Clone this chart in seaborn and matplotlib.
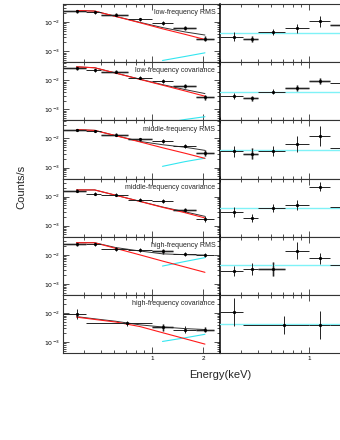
import matplotlib

matplotlib.use("Agg")
import matplotlib.pyplot as plt
import numpy as np
import seaborn as sns
from matplotlib.ticker import FixedFormatter, FixedLocator, LogLocator, NullFormatter


PANEL_NAMES = [
    "low-frequency RMS",
    "low-frequency covariance",
    "middle-frequency RMS",
    "middle-frequency covariance",
    "high-frequency RMS",
    "high-frequency covariance",
]

# energy bins (keV)
BIN_EDGES = [0.3, 0.41, 0.5, 0.72, 1.0, 1.32, 1.81, 2.3]
BIN_MID = [0.36, 0.46, 0.61, 0.85, 1.15, 1.56, 2.04]
WIDE_EDGES = [0.3, 0.41, 1.0, 1.32, 1.81, 2.3]
WIDE_MID = [0.36, 0.71, 1.15, 1.56, 2.04]

# model grid
MODEL_E = [0.36, 0.46, 0.61, 0.85, 1.15, 1.56, 2.04]
HARD_E = [1.15, 1.56, 2.04]

# left column: spectra (counts/s) and errors (dex)
LOW_RMS_Y = [0.024, 0.0216, 0.018, 0.0124, 0.0092, 0.0062, 0.0027]
LOW_COV_Y = [0.0256, 0.0218, 0.0195, 0.0124, 0.0095, 0.0062, 0.0026]
MID_RMS_Y = [0.0196, 0.018, 0.0134, 0.0094, 0.0082, 0.0055, 0.0032]
MID_COV_Y = [0.0157, 0.0127, 0.0117, 0.0077, 0.0071, 0.0035, 0.0017]
HIGH_RMS_Y = [0.0227, 0.0227, 0.0159, 0.0147, 0.0131, 0.0106, 0.0098]
HIGH_COV_Y = [0.0093, 0.0044, 0.0032, 0.00265, 0.0027]

LOW_RMS_ERR = [0.05, 0.05, 0.05, 0.05, 0.06, 0.07, 0.09]
LOW_COV_ERR = [0.05, 0.05, 0.05, 0.05, 0.06, 0.07, 0.09]
MID_RMS_ERR = [0.05, 0.05, 0.05, 0.05, 0.06, 0.08, 0.1]
MID_COV_ERR = [0.05, 0.05, 0.05, 0.05, 0.06, 0.08, 0.1]
HIGH_RMS_ERR = [0.06, 0.06, 0.06, 0.07, 0.08, 0.06, 0.06]
HIGH_COV_ERR = [0.17, 0.08, 0.12, 0.12, 0.1]

# model components
LOW_RMS_RED = [0.025, 0.024, 0.0157, 0.0095, 0.0059, 0.0038, 0.00253]
LOW_RMS_BLACK = [0.025, 0.024, 0.0158, 0.0098, 0.0065, 0.0046, 0.0036]
LOW_RMS_CYAN = [4.8e-4, 6.6e-4, 8.8e-4]

LOW_COV_RED = [0.029, 0.027, 0.0177, 0.0107, 0.0068, 0.0043, 0.00284]
LOW_COV_BLACK = [0.029, 0.027, 0.0178, 0.0109, 0.0071, 0.0048, 0.0035]
LOW_COV_CYAN = [3.3e-4, 4.5e-4, 5.6e-4]

MID_RMS_RED = [0.02, 0.019, 0.0125, 0.0076, 0.0048, 0.0031, 0.00207]
MID_RMS_BLACK = [0.02, 0.019, 0.0126, 0.0079, 0.0061, 0.005, 0.0039]
MID_RMS_CYAN = [0.0011, 0.0016, 0.0021]

MID_COV_RED = [0.017, 0.017, 0.0112, 0.0068, 0.0043, 0.0028, 0.00185]
MID_COV_BLACK = [0.017, 0.017, 0.0112, 0.0069, 0.0044, 0.003, 0.0021]
MID_COV_CYAN = [1.5e-4, 2.0e-4, 2.6e-4]

HIGH_RMS_RED = [0.026, 0.026, 0.0167, 0.0099, 0.0061, 0.0038, 0.0025]
HIGH_RMS_BLACK = [0.026, 0.026, 0.0178, 0.0135, 0.0108, 0.0101, 0.0098]
HIGH_RMS_CYAN = [0.0041, 0.0059, 0.008]

HIGH_COV_RED = [0.0072, 0.006, 0.0049, 0.0034, 0.0021, 0.0013, 0.00085]
HIGH_COV_BLACK = [0.0075, 0.0063, 0.0052, 0.0039, 0.0033, 0.0029, 0.0027]
HIGH_COV_CYAN = [0.00105, 0.0014, 0.00185]

# right column: spectra (counts/s), errors (dex), constant model level
LOW_RMS_R = [0.0032, 0.0026, 0.0045, 0.0062, 0.0106, 0.0081, 0.0075]
LOW_COV_R = [0.0028, 0.0024, 0.0041, 0.0054, 0.0095, 0.0083, 0.007]
MID_RMS_R = [0.0036, 0.003, 0.0037, 0.0063, 0.012, 0.0048, 0.006]
MID_COV_R = [0.003, 0.0019, 0.0041, 0.0052, 0.022, 0.0045, 0.005]
HIGH_RMS_R = [0.0028, 0.0032, 0.0033, 0.0139, 0.0076, 0.0044, 0.005]
HIGH_COV_R = [0.0108, 0.0038, 0.0038, 0.004, 0.004]

LOW_RMS_R_ERR = [0.14, 0.1, 0.1, 0.15, 0.18, 0.15, 0.2]
LOW_COV_R_ERR = [0.1, 0.08, 0.08, 0.1, 0.1, 0.12, 0.15]
MID_RMS_R_ERR = [0.2, 0.18, 0.18, 0.28, 0.35, 0.25, 0.3]
MID_COV_R_ERR = [0.17, 0.14, 0.14, 0.16, 0.16, 0.2, 0.25]
HIGH_RMS_R_ERR = [0.18, 0.21, 0.23, 0.29, 0.18, 0.2, 0.25]
HIGH_COV_R_ERR = [0.47, 0.3, 0.49, 0.4, 0.4]

CYAN_LEVEL_R = [0.0042, 0.0041, 0.0041, 0.0041, 0.0044, 0.0041]

# bins also shown in light grey (second data set)
GRAY_LEFT = [[0, 2, 5, 6], [0, 2, 5, 6], [0, 2, 3, 6], [0, 5], [0, 4], [2, 4]]
GRAY_RIGHT = [[1, 5], [1, 3, 4], [1], [], [2, 6], []]

X_TICKS = [1, 2]
X_TICK_LABELS = ["1", "2"]
X_TICK_LABELS_RIGHT = ["1", ""]  # the "2" of the right column falls outside the crop

FIG_W, FIG_H = 340, 440
LEFT_X0, COL_W = 63, 157
TOP_Y0, ROW_H = 4, 58.17


def dex_errors(y, dex):
    y = np.asarray(y)
    dex = np.asarray(dex)
    return [y - y * 10 ** (-dex), y * 10 ** dex - y]


def bin_errors(mid, edges):
    mid = np.asarray(mid)
    edges = np.asarray(edges)
    return [mid - edges[:-1], edges[1:] - mid]


def style_axis(ax, show_x, show_y, x_labels):
    ax.set_xscale("log")
    ax.set_yscale("log")
    ax.set_xlim(0.3, 2.5)
    ax.set_ylim(4.2e-4, 4.2e-2)
    ax.xaxis.set_major_locator(FixedLocator(X_TICKS))
    ax.xaxis.set_major_formatter(FixedFormatter(x_labels))
    ax.xaxis.set_minor_locator(LogLocator(base=10, subs=np.arange(1, 10)))
    ax.xaxis.set_minor_formatter(NullFormatter())
    ax.yaxis.set_major_locator(FixedLocator([1e-3, 1e-2]))
    ax.yaxis.set_major_formatter(FixedFormatter([r"$10^{-3}$", r"$10^{-2}$"]))
    ax.yaxis.set_minor_locator(LogLocator(base=10, subs=np.arange(2, 10)))
    ax.yaxis.set_minor_formatter(NullFormatter())
    ax.tick_params(which="both", direction="in", top=True, right=True,
                   width=0.6, colors="#333333", labelcolor="black",
                   labelsize=4.5, pad=2)
    ax.tick_params(which="major", length=4)
    ax.tick_params(which="minor", length=2)
    ax.tick_params(axis="x", labelbottom=show_x)
    ax.tick_params(axis="y", labelleft=show_y)
    for spine in ax.spines.values():
        spine.set_linewidth(0.8)
        spine.set_color("#333333")


def draw_points(ax, mid, edges, y, dex, gray_bins):
    xerr = bin_errors(mid, edges)
    yerr = dex_errors(y, dex)
    if gray_bins:
        idx = np.asarray(gray_bins)
        idx = idx[idx < len(mid)]
        ax.errorbar(np.asarray(mid)[idx], np.asarray(y)[idx],
                    xerr=[xerr[0][idx], xerr[1][idx]],
                    yerr=[yerr[0][idx], yerr[1][idx]],
                    fmt="none", ecolor="#b5b5b5", elinewidth=2.0, zorder=2)
    ax.errorbar(mid, y, xerr=xerr, yerr=yerr, fmt="o", color="black",
                markersize=1.3, ecolor="#222222", elinewidth=0.7,
                capsize=0, zorder=5)


def main():
    sns.set_theme(style="ticks")
    plt.rcParams["font.family"] = ["Liberation Sans", "DejaVu Sans"]
    plt.rcParams["mathtext.fontset"] = "dejavusans"

    rows = [
        (LOW_RMS_Y, LOW_RMS_ERR, LOW_RMS_RED, LOW_RMS_BLACK, LOW_RMS_CYAN, LOW_RMS_R, LOW_RMS_R_ERR),
        (LOW_COV_Y, LOW_COV_ERR, LOW_COV_RED, LOW_COV_BLACK, LOW_COV_CYAN, LOW_COV_R, LOW_COV_R_ERR),
        (MID_RMS_Y, MID_RMS_ERR, MID_RMS_RED, MID_RMS_BLACK, MID_RMS_CYAN, MID_RMS_R, MID_RMS_R_ERR),
        (MID_COV_Y, MID_COV_ERR, MID_COV_RED, MID_COV_BLACK, MID_COV_CYAN, MID_COV_R, MID_COV_R_ERR),
        (HIGH_RMS_Y, HIGH_RMS_ERR, HIGH_RMS_RED, HIGH_RMS_BLACK, HIGH_RMS_CYAN, HIGH_RMS_R, HIGH_RMS_R_ERR),
        (HIGH_COV_Y, HIGH_COV_ERR, HIGH_COV_RED, HIGH_COV_BLACK, HIGH_COV_CYAN, HIGH_COV_R, HIGH_COV_R_ERR),
    ]

    fig = plt.figure(figsize=(FIG_W / 100, FIG_H / 100), dpi=100)
    fig.patch.set_facecolor("white")

    for i, (y, err, red, black, cyan, y_r, err_r) in enumerate(rows):
        last = i == len(rows) - 1
        mid, edges = (WIDE_MID, WIDE_EDGES) if last else (BIN_MID, BIN_EDGES)
        bottom = 1 - (TOP_Y0 + (i + 1) * ROW_H) / FIG_H
        height = ROW_H / FIG_H

        ax_l = fig.add_axes([LEFT_X0 / FIG_W, bottom, COL_W / FIG_W, height])
        ax_r = fig.add_axes([(LEFT_X0 + COL_W) / FIG_W, bottom, COL_W / FIG_W, height])

        # left: spectrum with model components
        sns.lineplot(x=HARD_E, y=cyan, ax=ax_l, color="#33e6f0", linewidth=0.8,
                     estimator=None, sort=False, zorder=3)
        sns.lineplot(x=MODEL_E, y=black, ax=ax_l, color="#333333", linewidth=0.7,
                     estimator=None, sort=False, zorder=3)
        sns.lineplot(x=MODEL_E, y=red, ax=ax_l, color="#ff1a1a", linewidth=0.8,
                     estimator=None, sort=False, zorder=4)
        draw_points(ax_l, mid, edges, y, err, GRAY_LEFT[i])
        style_axis(ax_l, show_x=last, show_y=True, x_labels=X_TICK_LABELS)
        ax_l.text(0.97, 0.85, PANEL_NAMES[i], transform=ax_l.transAxes,
                  ha="right", va="center", fontsize=5)

        # right: same bins against a constant model
        ax_r.axhline(CYAN_LEVEL_R[i], color="#7ff2f7", linewidth=1.0, zorder=3)
        draw_points(ax_r, mid, edges, y_r, err_r, GRAY_RIGHT[i])
        style_axis(ax_r, show_x=last, show_y=False, x_labels=X_TICK_LABELS_RIGHT)
        ax_r.tick_params(which="both", left=False)
        ax_r.spines["left"].set_color("black")
        ax_r.spines["left"].set_linewidth(1.1)

        for ax in (ax_l, ax_r):
            ax.set_xlabel("")
            ax.set_ylabel("")
            ax.set_facecolor("white")

    fig.text(0.062, 0.575, "Counts/s", rotation=90, fontsize=8,
             ha="center", va="center")
    fig.text((LEFT_X0 + COL_W) / FIG_W, 0.148, "Energy(keV)", fontsize=8,
             ha="center", va="center")

    fig.savefig("out.png", dpi=100)
    plt.close(fig)


if __name__ == "__main__":
    main()
